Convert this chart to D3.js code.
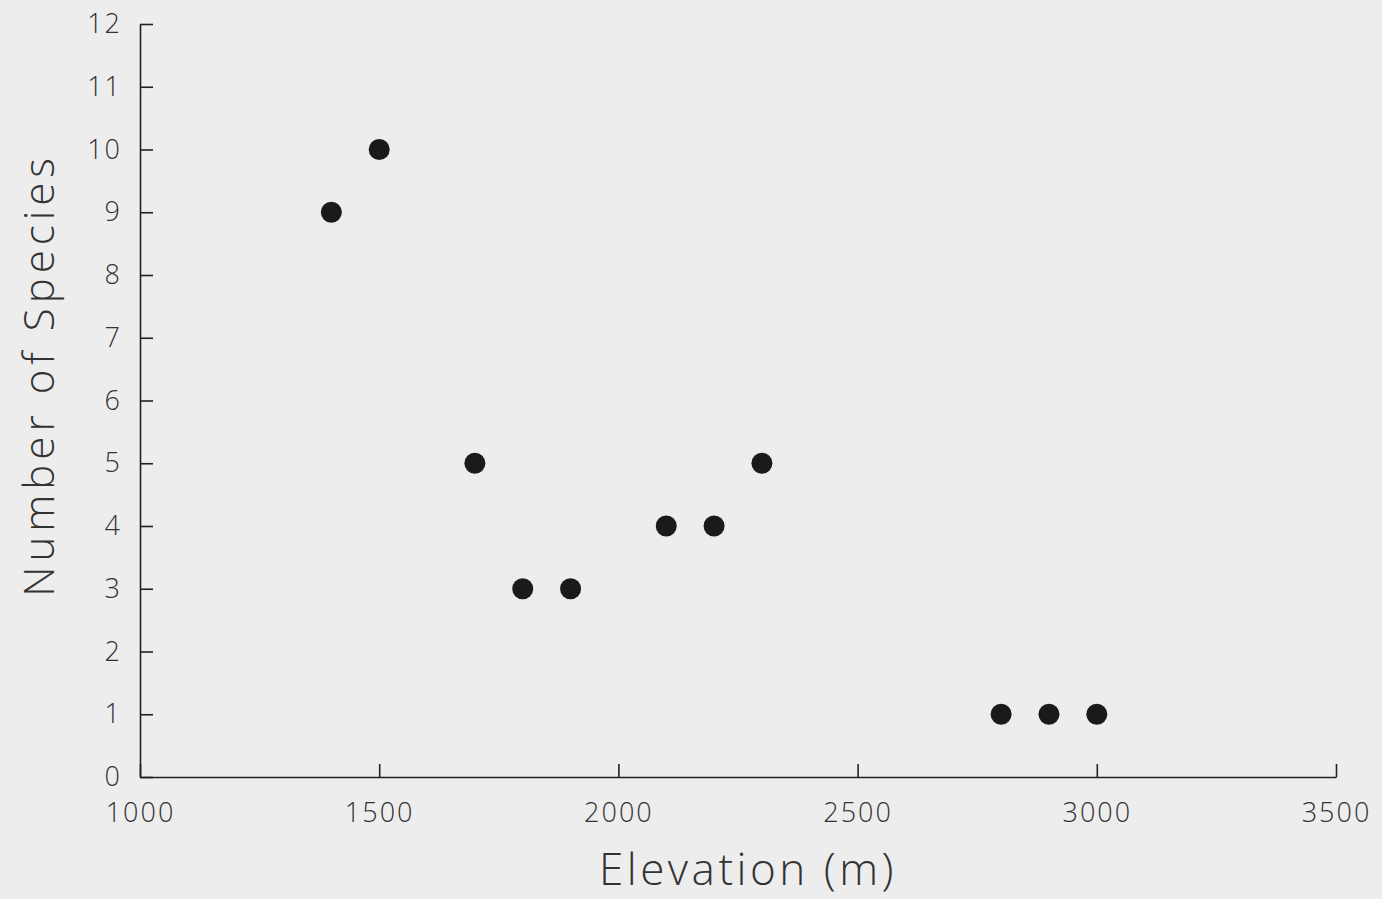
<!DOCTYPE html>
<html>
<head>
<meta charset="utf-8">
<script src="https://cdn.jsdelivr.net/npm/d3@7"></script>
<style>
  body { margin: 0; background: #ededed; }
  svg { display: block; }
  .tick text, .axis-title { font-family: "Open Sans", "DejaVu Sans", sans-serif; font-weight: 300; fill: #333; }
</style>
</head>
<body>
<div id="chart"></div>
<script>
// elevation (m) and number of species
var elevations = [1400, 1500, 1700, 1800, 1900, 2100, 2200, 2300, 2800, 2900, 3000];
var species = [9, 10, 5, 3, 3, 4, 4, 5, 1, 1, 1];
var xTicks = [1000, 1500, 2000, 2500, 3000, 3500];
var yTicks = [0, 1, 2, 3, 4, 5, 6, 7, 8, 9, 10, 11, 12];

var width = 1382, height = 899;
var margin = {top: 24, right: 46, bottom: 122, left: 140};

var svg = d3.select('#chart').append('svg')
    .attr('width', width)
    .attr('height', height);

var x = d3.scaleLinear().domain([1000, 3500]).range([margin.left, width - margin.right]);
var y = d3.scaleLinear().domain([0, 12]).range([height - margin.bottom, margin.top]);

// y axis, ticks pointing inward
var yAxis = svg.append('g')
    .attr('transform', 'translate(' + margin.left + ',0)')
    .call(d3.axisRight(y).tickValues(yTicks).tickSize(13).tickSizeOuter(0).tickFormat(d3.format('d')));
yAxis.selectAll('.tick text')
    .attr('x', -18)
    .attr('text-anchor', 'end')
    .attr('font-size', 27)
    .style('letter-spacing', '2px');

// x axis, ticks pointing up
var xAxis = svg.append('g')
    .attr('transform', 'translate(0,' + (height - margin.bottom) + ')')
    .call(d3.axisTop(x).tickValues(xTicks).tickSize(13).tickSizeOuter(0).tickFormat(d3.format('d')));
xAxis.selectAll('.tick text')
    .attr('y', 36)
    .attr('dy', '0.35em')
    .attr('font-size', 27)
    .style('letter-spacing', '2px');

svg.selectAll('.domain, .tick line')
    .attr('stroke', '#222')
    .attr('stroke-width', 1.6);

// points
svg.selectAll('circle.pt')
    .data(elevations)
    .enter().append('circle')
    .attr('class', 'pt')
    .attr('cx', function (d) { return x(d); })
    .attr('cy', function (d, i) { return y(species[i]); })
    .attr('r', 10.5)
    .attr('fill', '#1a1a1a');

// titles
svg.append('text')
    .attr('class', 'axis-title')
    .attr('x', 748)
    .attr('y', 885)
    .attr('text-anchor', 'middle')
    .attr('font-size', 44)
    .style('letter-spacing', '3.5px')
    .text('Elevation (m)');

svg.append('text')
    .attr('class', 'axis-title')
    .attr('transform', 'translate(54,375) rotate(-90)')
    .attr('text-anchor', 'middle')
    .attr('font-size', 42)
    .style('letter-spacing', '5px')
    .text('Number of Species');
</script>
</body>
</html>
